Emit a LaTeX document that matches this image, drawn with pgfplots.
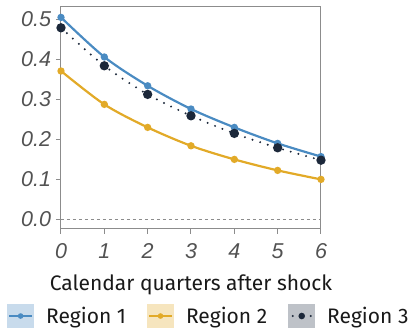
\documentclass[border=0pt]{standalone}
\usepackage{pgfplots}
\pgfplotsset{compat=1.18}
\usepackage{fontspec}
\setmainfont{Fira Sans}
\newfontfamily\tickfont{Liberation Sans}
\definecolor{rblue}{RGB}{74,139,194}
\definecolor{rgold}{RGB}{226,170,40}
\definecolor{rnavy}{RGB}{28,40,58}
\definecolor{pblue}{RGB}{200,219,236}
\definecolor{pgold}{RGB}{246,229,190}
\definecolor{pgray}{RGB}{190,194,200}
\definecolor{spine}{RGB}{140,140,140}
\begin{document}
\begin{tikzpicture}
\begin{axis}[
  at={(0,0)}, anchor=south west,
  scale only axis, width=260pt, height=222pt,
  xmin=0, xmax=6, ymin=-0.024, ymax=0.531,
  xtick={0,1,2,3,4,5,6}, ytick={0,0.1,0.2,0.3,0.4,0.5},
  yticklabel style={/pgf/number format/fixed, /pgf/number format/fixed zerofill, /pgf/number format/precision=1, xshift=-1.5pt},
  xticklabel style={yshift=-6pt},
  /pgf/number format/assume math mode=true,
  tick label style={font=\tickfont\itshape\fontsize{21.5}{21.5}\selectfont, text=black!68},
  axis line style={spine, line width=1pt},
  tick style={spine, line width=1pt},
  tick align=outside, major tick length=5pt,
  xtick pos=bottom, ytick pos=left,
  xlabel={Calendar quarters after shock},
  xlabel style={font=\fontsize{21}{24}\selectfont, text=black!90, yshift=-9pt},
  legend columns=3,
  legend style={draw=none, fill=none, at={(-0.208,-0.392)}, anchor=west, inner sep=0pt,
    font=\fontsize{21}{24}\selectfont, text=black!90,
    /tikz/every odd column/.append style={column sep=10pt},
    /tikz/every even column/.append style={column sep=19pt}},
]
\addplot[spine, dashed, line width=0.8pt, forget plot] coordinates {(0,0) (6,0)};
\addplot[rblue, line width=2.2pt, smooth, mark=*, mark size=2.5pt,
  legend image code/.code={\path[draw=none, fill=pblue] (0pt,-12pt) rectangle (27pt,12pt);
    \path[draw=rblue, solid, line width=2.2pt] (2pt,0pt) -- (25pt,0pt);
    \path[draw=none, fill=rblue] (13.5pt,0pt) circle (2.8pt);}]
  coordinates {(0,0.505) (1,0.406) (2,0.334) (3,0.276) (4,0.230) (5,0.190) (6,0.157)};
\addlegendentry{Region 1}
\addplot[rgold, line width=2.2pt, smooth, mark=*, mark size=2.5pt,
  legend image code/.code={\path[draw=none, fill=pgold] (0pt,-12pt) rectangle (27pt,12pt);
    \path[draw=rgold, solid, line width=2.2pt] (2pt,0pt) -- (25pt,0pt);
    \path[draw=none, fill=rgold] (13.5pt,0pt) circle (2.8pt);}]
  coordinates {(0,0.371) (1,0.2875) (2,0.23) (3,0.184) (4,0.15) (5,0.1225) (6,0.100)};
\addlegendentry{Region 2}
\addplot[rnavy, line width=2.2pt, line cap=round, dash pattern=on 0pt off 8pt, smooth,
  mark=*, mark size=3.5pt, mark options={solid},
  legend image code/.code={\path[draw=none, fill=pgray] (0pt,-12pt) rectangle (27pt,12pt);
    \path[draw=none, fill=rnavy] (4.5pt,0pt) circle (1.2pt);
    \path[draw=none, fill=rnavy] (22.5pt,0pt) circle (1.2pt);
    \path[draw=none, fill=rnavy] (13.5pt,0pt) circle (3.3pt);}]
  coordinates {(0,0.479) (1,0.384) (2,0.3125) (3,0.259) (4,0.215) (5,0.179) (6,0.148)};
\addlegendentry{Region 3}
\end{axis}
\pgfresetboundingbox
\path (-61pt,-99pt) rectangle (352pt,229pt);
\end{tikzpicture}
\end{document}
